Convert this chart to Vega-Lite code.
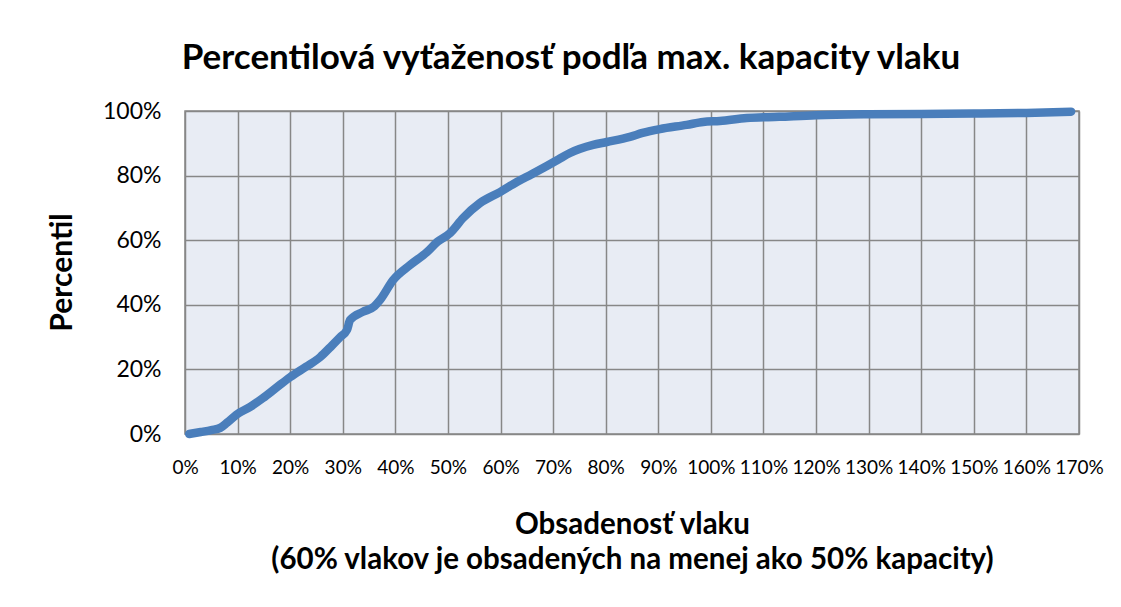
{
  "$schema": "https://vega.github.io/schema/vega-lite/v6.json",
  "width": 894,
  "height": 323,
  "autosize": {"type": "none"},
  "padding": {"left": 185, "top": 111, "right": 42, "bottom": 173},
  "background": "white",
  "title": {
    "text": "Percentilová vyťaženosť podľa max. kapacity vlaku",
    "font": "Lato",
    "fontSize": 35,
    "fontWeight": "bold",
    "color": "#000000",
    "anchor": "middle",
    "dx": -61,
    "baseline": "alphabetic",
    "offset": -4
  },
  "data": {
    "values": [
      {"x": 0.8, "y": 0},
      {"x": 3, "y": 0.6},
      {"x": 5, "y": 1.2},
      {"x": 6.7, "y": 1.9},
      {"x": 8, "y": 3.5},
      {"x": 9.8, "y": 6},
      {"x": 12.4, "y": 8.4},
      {"x": 14.8, "y": 11.1},
      {"x": 17.5, "y": 14.5},
      {"x": 20, "y": 17.6},
      {"x": 23, "y": 20.8},
      {"x": 25.7, "y": 23.8},
      {"x": 28, "y": 27.5},
      {"x": 29.5, "y": 30},
      {"x": 30.8, "y": 32.2},
      {"x": 31.4, "y": 35.3},
      {"x": 33.8, "y": 37.8},
      {"x": 36, "y": 39.5},
      {"x": 37.1, "y": 41.5},
      {"x": 39.6, "y": 47.7},
      {"x": 42.8, "y": 52.3},
      {"x": 46, "y": 56.3},
      {"x": 48, "y": 59.5},
      {"x": 50.4, "y": 62.2},
      {"x": 52.9, "y": 66.9},
      {"x": 56.1, "y": 71.5},
      {"x": 59.9, "y": 74.9},
      {"x": 63.1, "y": 78},
      {"x": 66, "y": 80.5},
      {"x": 68.8, "y": 83},
      {"x": 71, "y": 85},
      {"x": 73.2, "y": 87},
      {"x": 77.6, "y": 89.5},
      {"x": 80.2, "y": 90.4},
      {"x": 84.6, "y": 92},
      {"x": 87, "y": 93.2},
      {"x": 90.3, "y": 94.4},
      {"x": 95.4, "y": 95.7},
      {"x": 98.5, "y": 96.6},
      {"x": 101.7, "y": 96.9},
      {"x": 106.8, "y": 97.8},
      {"x": 113, "y": 98.2},
      {"x": 120, "y": 98.7},
      {"x": 130, "y": 99},
      {"x": 140, "y": 99.1},
      {"x": 150, "y": 99.2},
      {"x": 160, "y": 99.4},
      {"x": 168.5, "y": 99.8}
    ]
  },
  "mark": {"type": "line", "color": "#4a7ebb", "strokeWidth": 8.5, "strokeCap": "round", "strokeJoin": "round", "interpolate": "monotone", "clip": false},
  "encoding": {
    "x": {
      "field": "x",
      "type": "quantitative",
      "scale": {"domain": [0, 170], "nice": false, "zero": true},
      "axis": {
        "values": [0, 10, 20, 30, 40, 50, 60, 70, 80, 90, 100, 110, 120, 130, 140, 150, 160, 170],
        "labelExpr": "datum.value + '%'",
        "labelFont": "Lato",
        "labelFontSize": 19,
        "labelColor": "#000000",
        "labelPadding": 24,
        "labelFlush": false,
        "labelOverlap": false,
        "ticks": false,
        "domain": false,
        "grid": true,
        "gridColor": "#878787",
        "gridWidth": 1.5,
        "gridOpacity": 1,
        "title": ["Obsadenosť vlaku", "(60% vlakov je obsadených na menej ako 50% kapacity)"],
        "titleFont": "Lato",
        "titleFontSize": 29.5,
        "titleFontWeight": "bold",
        "titleColor": "#000000",
        "titleBaseline": "alphabetic",
        "titleLineHeight": 35,
        "titleY": 99,
        "titleX": 447,
        "titleAnchor": "middle"
      }
    },
    "y": {
      "field": "y",
      "type": "quantitative",
      "scale": {"domain": [0, 100], "nice": false},
      "axis": {
        "values": [0, 20, 40, 60, 80, 100],
        "labelExpr": "datum.value + '%'",
        "labelFont": "Lato",
        "labelFontSize": 23,
        "labelColor": "#000000",
        "labelPadding": 24,
        "labelFlush": false,
        "ticks": false,
        "domain": false,
        "grid": true,
        "gridColor": "#878787",
        "gridWidth": 1.5,
        "gridOpacity": 1,
        "title": "Percentil",
        "titleFont": "Lato",
        "titleFontSize": 30,
        "titleFontWeight": "bold",
        "titleColor": "#000000",
        "titleAngle": -90,
        "titleBaseline": "middle",
        "titleX": -123,
        "titleY": 161,
        "titleAnchor": "middle"
      }
    }
  },
  "config": {
    "view": {"fill": "#e8ecf4", "stroke": "#878787", "strokeWidth": 1.5}
  }
}
